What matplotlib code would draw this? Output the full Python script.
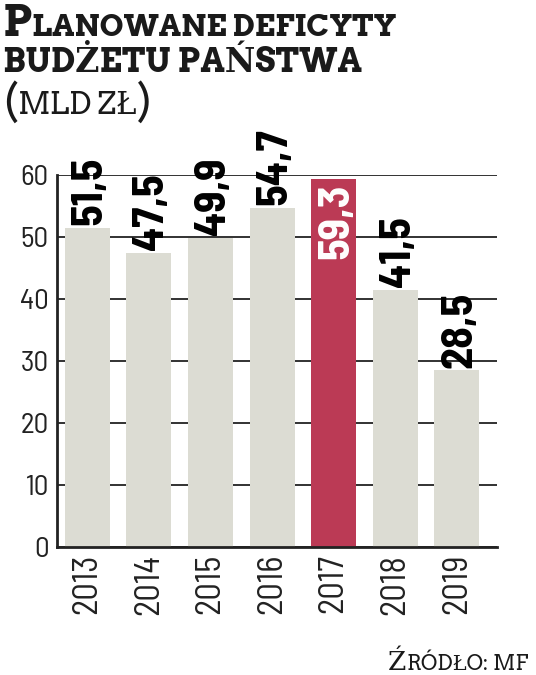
import matplotlib
matplotlib.use("Agg")
import matplotlib.pyplot as plt

# dane
years = ["2013", "2014", "2015", "2016", "2017", "2018", "2019"]
deficits = [51.5, 47.5, 49.9, 54.7, 59.3, 41.5, 28.5]
labels = ["51,5", "47,5", "49,9", "54,7", "59,3", "41,5", "28,5"]
highlight = "2017"

NARROW = ["Barlow Semi Condensed", "DejaVu Sans"]
SERIF = ["Arvo", "DejaVu Serif"]
GRAY = "#dcdcd3"
RED = "#bb3a55"
INK = "#222222"

fig = plt.figure(figsize=(5.36, 6.75), dpi=100)
fig.set_facecolor("white")
ax = fig.add_axes([57 / 536, 1 - 547 / 675, 440 / 536, 372 / 675])

x = list(range(len(years)))
colors = [RED if y == highlight else GRAY for y in years]
ax.bar(x, deficits, width=0.73, color=colors, zorder=2)

ax.set_ylim(0, 60)
ax.set_xlim(-0.49, 6.65)
ax.set_yticks(range(0, 61, 10))
ax.yaxis.grid(True, color=INK, linewidth=1.3, zorder=0)
ax.set_axisbelow(True)

for side in ["top", "right"]:
    ax.spines[side].set_visible(False)
ax.spines["left"].set_linewidth(2)
ax.spines["left"].set_color(INK)
ax.spines["bottom"].set_linewidth(2)
ax.spines["bottom"].set_color(INK)

ax.tick_params(axis="y", length=0, pad=6, labelcolor=INK)
ax.tick_params(axis="x", length=0, pad=5)
ax.set_yticklabels([str(v) for v in range(0, 61, 10)], family=NARROW, fontsize=21)
ax.set_xticks(x)
ax.set_xticklabels(years, rotation=90, fontsize=25, family=NARROW, color=INK,
                   va="top", ha="center")

# etykiety wartości
for xi, v, lab, y in zip(x, deficits, labels, years):
    if y == highlight:
        ax.annotate(lab, (xi, v), xytext=(2, -3), textcoords="offset points",
                    rotation=90, ha="center", va="top", fontsize=32,
                    fontweight="bold", family=NARROW, color="white", zorder=3)
    else:
        ax.annotate(lab, (xi, v), xytext=(2, 2), textcoords="offset points",
                    rotation=90, ha="center", va="bottom", fontsize=32,
                    fontweight="bold", family=NARROW, color="black",
                    annotation_clip=False, zorder=3)

# tytuł kapitalikami
renderer = fig.canvas.get_renderer()


def smallcaps(x0, y0, parts, **kw):
    xx = x0
    for txt, size in parts:
        t = fig.text(xx, y0, txt, fontsize=size, va="baseline", ha="left", **kw)
        bb = t.get_window_extent(renderer)
        xx = bb.x1 / fig.bbox.width


smallcaps(3 / 536, 1 - 36 / 675, [("P", 31), ("LANOWANE DEFICYTY", 22)],
          family=SERIF, fontweight="bold", color="#1a1a1a")
smallcaps(3 / 536, 1 - 72 / 675, [("BUDŻETU PAŃSTWA", 24)],
          family=SERIF, fontweight="bold", color="#1a1a1a")
smallcaps(3 / 536, 1 - 114 / 675, [("(", 30), ("MLD ZŁ", 22), (")", 30)],
          family=SERIF, color="#1a1a1a")

smallcaps(388 / 536, 1 - 670 / 675, [("Ź", 19), ("RÓDŁO: MF", 15)],
          family=SERIF, color="#1a1a1a")

fig.savefig("out.png", dpi=100)
